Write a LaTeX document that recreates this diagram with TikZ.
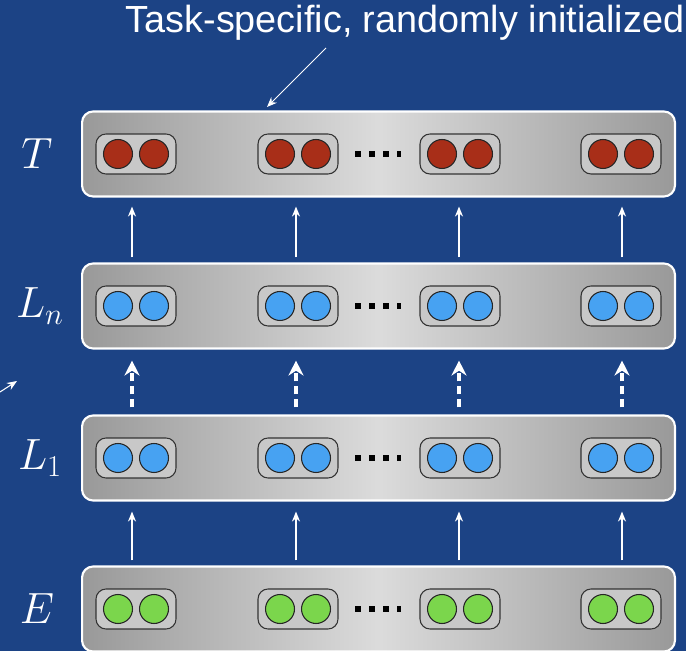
\documentclass[tikz,border=0pt]{standalone}
\usepackage{amsmath}
\usepackage{fontspec}
\newfontfamily\titlefont{Liberation Sans}
\usepackage{tikz}
\usetikzlibrary{arrows.meta}

\definecolor{bgblue}{HTML}{1C4385}
\definecolor{tred}{HTML}{A82E18}
\definecolor{nblue}{HTML}{47A2F2}
\definecolor{egreen}{HTML}{7BD64C}
\definecolor{pillgray}{HTML}{C8C8C8}

\tikzset{
  layer/.style={draw=white, line width=1.2pt, rounded corners=0.22cm,
    minimum width=11.86cm, minimum height=1.7cm, inner sep=0pt,
    left color=black!40, right color=black!40, middle color=black!14},
  unit/.style={draw=black!80, line width=0.6pt, fill=pillgray, rounded corners=0.2cm,
    minimum width=1.6cm, minimum height=0.8cm, inner sep=0pt},
  neuron/.style={circle, draw=black!85, line width=0.6pt, minimum size=0.58cm, inner sep=0pt},
  sq/.style={fill=black, minimum size=0.13cm, inner sep=0pt},
  lbl/.style={text=white, font=\fontsize{24}{28}\selectfont},
  up/.style={white, line width=0.8pt, -{Stealth[length=0.2cm, width=0.16cm]}},
  dashup/.style={white, line width=2pt, dash pattern=on 0.16cm off 0.1cm,
    -{Stealth[length=0.3cm, width=0.3cm]}},
}

\begin{document}
\begin{tikzpicture}[x=0.02cm, y=-0.02cm]
\fill[bgblue] (0,0) rectangle (686,651);
\useasboundingbox (0,0) rectangle (686,651);

% layers with their units
\foreach \l/\y/\c in {T/154/tred, Ln/306/nblue, L1/458/nblue, E/609/egreen} {
  \node[layer] (\l) at (378.5,\y) {};
  \foreach \i/\x in {1/136, 2/298, 3/460, 4/621} {
    \node[unit] (\l\i) at (\x,\y) {};
    \node[neuron, fill=\c] at (\x-18,\y) {};
    \node[neuron, fill=\c] at (\x+18,\y) {};
  }
  \node[sq] at (358,\y) {};
  \node[sq] at (372,\y) {};
  \node[sq] at (386,\y) {};
  \node[sq, minimum width=0.08cm] at (399,\y) {};
}

\node[lbl] (labT) at (37,154) {$T$};
\node[lbl] (labLn) at (40,306) {$L_n$};
\node[lbl] (labL1) at (40,458) {$L_1$};
\node[lbl] (labE) at (37,609) {$E$};

% arrows between layers
\coordinate (c1) at (132,0);
\coordinate (c2) at (296,0);
\coordinate (c3) at (459,0);
\coordinate (c4) at (622,0);
\foreach \k in {c1,c2,c3,c4} {
  \draw[up, shorten <=0.1cm, shorten >=0.18cm] (Ln.north -| \k) -- (T.south -| \k);
  \draw[dashup, shorten <=0.14cm, shorten >=0.22cm] (L1.north -| \k) -- (Ln.south -| \k);
  \draw[up, shorten <=0.1cm, shorten >=0.2cm] (E.north -| \k) -- (L1.south -| \k);
}

% note
\node[text=white, font=\titlefont\fontsize{21.5}{25}\selectfont, anchor=base] (title) at (405,33) {Task-specific, randomly initialized};
\coordinate (tail) at (326,48);
\coordinate (tip) at (267,107);
\draw[up, line width=0.6pt] (tail) -- (tip);
\coordinate (sidetail) at (0,392);
\coordinate (sidetip) at (17,381);
\draw[up, line width=0.6pt] (sidetail) -- (sidetip);
\end{tikzpicture}
\end{document}
